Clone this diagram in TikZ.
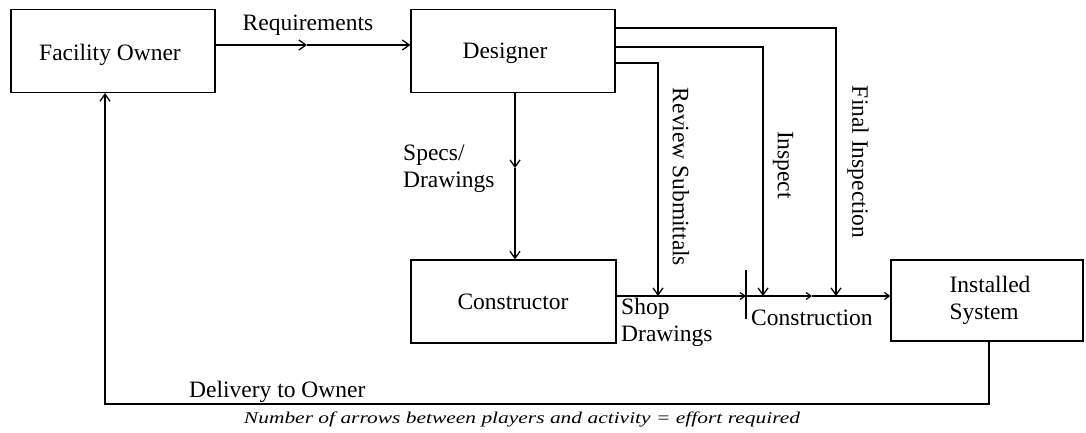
\documentclass[tikz,border=0pt]{standalone}
\usepackage{fontspec}
\setmainfont{Liberation Serif}
\usetikzlibrary{arrows.meta}
\begin{document}
\begin{tikzpicture}[x=1pt,y=-1pt,
  box/.style={draw,line width=1.2pt,inner sep=0pt},
  lbl/.style={font=\fontsize{23.5}{27}\selectfont,inner sep=0pt},
  ln/.style={line width=1.2pt},
  arr/.style={ln,-{Straight Barb[length=7pt,width=10pt,line width=1.3pt]}},
  sarr/.style={ln,-{Straight Barb[length=5pt,width=7pt,line width=1.2pt]}}]
\useasboundingbox (0,0) rectangle (1086,432);
% boxes
\node[box,minimum width=204pt,minimum height=83pt] (fo) at (113,51) {};
\node[box,minimum width=204pt,minimum height=83pt] (des) at (513,51) {};
\node[box,minimum width=205pt,minimum height=83pt] (con) at (513.5,301.5) {};
\node[box,minimum width=192pt,minimum height=81pt] (ins) at (987,300.5) {};
\node[lbl] (fot) at (110,55) {Facility Owner};
\node[lbl] (dest) at (505,53) {Designer};
\node[lbl] (cont) at (513,302) {Constructor};
\node[lbl,align=left] (inst) at (990,300) {Installed\\System};
% requirements
\coordinate (rq) at (307,45);
\draw[arr] (fo.east |- rq) -- (rq);
\draw[arr] (rq) -- (des.west |- rq);
\node[lbl] (rqt) at (308,25) {Requirements};
% specs
\coordinate (sp) at (515,168);
\draw[arr] (des.south -| sp) -- (sp);
\draw[arr] (sp) -- (con.north -| sp);
\node[lbl,anchor=west,align=left] (spt) at (403,169) {Specs/\\Drawings};
% main construction line
\coordinate (m1) at (658,296);
\coordinate (tk) at (746,296);
\coordinate (m2) at (763,296);
\coordinate (m3) at (812,296);
\coordinate (m4) at (836,296);
\coordinate (tkt) at (746,270);
\coordinate (tkb) at (746,319);
\draw[ln] (con.east |- m1) -- (m1);
\draw[sarr] (m1) -- (tk);
\draw[ln] (tkt) -- (tkb);
\draw[ln] (tk) -- (m2);
\draw[sarr] (m2) -- (m3);
\draw[ln] (m3) -- (m4);
\draw[sarr] (m4) -- (ins.west |- m4);
% designer outputs
\coordinate (d1) at (615,63);
\coordinate (d2) at (615,47);
\coordinate (d3) at (615,28);
\draw[arr] (d1) -- (m1 |- d1) -- (m1);
\draw[arr] (d2) -- (m2 |- d2) -- (m2);
\draw[arr] (d3) -- (m4 |- d3) -- (m4);
\node[lbl,rotate=-90] (rev) at (681,177) {Review Submittals};
\node[lbl,rotate=-90] (insp) at (783,165) {Inspect};
\node[lbl,rotate=-90] (fin) at (858,162) {Final Inspection};
\node[lbl,anchor=west,align=left] (shop) at (621,322) {Shop\\Drawings};
\node[lbl,anchor=west] (cstr) at (751,318) {Construction};
% delivery
\coordinate (b1) at (989,404);
\coordinate (b2) at (105,404);
\draw[arr] (ins.south -| b1) -- (b1) -- (b2) -- (fo.south -| b2);
\node[lbl,anchor=west] (del) at (189,392) {Delivery to Owner};
\node[font=\fontsize{16.5}{18}\selectfont\itshape,inner sep=0pt,xscale=1.3] (cap) at (522,419) {Number of arrows between players and activity = effort required};
\end{tikzpicture}
\end{document}
